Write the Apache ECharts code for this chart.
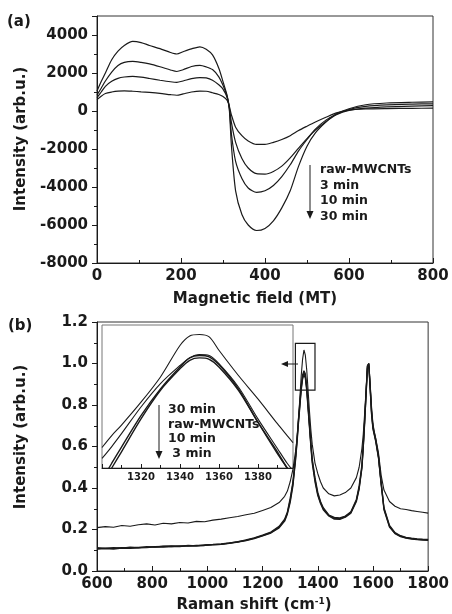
<!DOCTYPE html>
<html>
<head>
<meta charset="utf-8">
<script src="https://cdn.jsdelivr.net/npm/echarts/dist/echarts.min.js"></script>
<style>
  html, body { margin: 0; padding: 0; background: #fff; }
  #chart { width: 452px; height: 614px; }
</style>
</head>
<body>
<div id="chart"></div>
<script>
// (a) ESR spectra, magnetic field (MT)
const fieldMT = [0, 10, 20, 35, 50, 65, 85, 105, 125, 150, 175, 190, 205, 225, 245, 260, 275, 290, 300, 310,
  315, 320, 330, 345, 360, 380, 400, 420, 440, 460, 480, 500, 520, 545, 570, 600, 640, 690, 750, 800]
const esrRaw = [600, 780, 920, 1000, 1050, 1060, 1040, 1010, 980, 930, 860, 830, 900, 1000, 1050, 1040, 960, 870, 760, 560,
  250, -200, -850, -1300, -1580, -1760, -1760, -1650, -1500, -1300, -1030, -800, -580, -330, -100, 50, 110, 130, 140, 150]
const esr3min = [700, 1000, 1300, 1560, 1720, 1790, 1820, 1780, 1710, 1620, 1540, 1510, 1580, 1700, 1760, 1740, 1620, 1380, 1150, 700,
  200, -600, -1650, -2500, -3000, -3300, -3320, -3180, -2900, -2470, -1950, -1450, -1000, -560, -200, 30, 150, 220, 260, 280]
const esr10min = [850, 1200, 1580, 2050, 2400, 2560, 2610, 2560, 2480, 2330, 2160, 2080, 2170, 2340, 2400, 2320, 2180, 1800, 1350, 750,
  150, -1200, -2650, -3550, -4050, -4280, -4200, -3920, -3450, -2830, -2100, -1500, -950, -480, -170, 80, 240, 320, 360, 380]
const esr30min = [1050, 1550, 2000, 2700, 3150, 3450, 3660, 3600, 3450, 3280, 3080, 3000, 3120, 3270, 3380, 3250, 2950, 2250, 1550, 800,
  100, -1800, -4200, -5450, -6000, -6290, -6180, -5780, -5100, -4200, -2900, -1850, -1150, -580, -150, 120, 330, 420, 460, 480]
const esrLabels = ['raw-MWCNTs', '3 min', '10 min', '30 min']

// (b) Raman spectra
const ramanX = [600, 630, 660, 690, 720, 750, 780, 810, 840, 870, 900, 930, 960, 990, 1020, 1050, 1080, 1110, 1140, 1170,
  1200, 1230, 1260, 1280, 1290, 1300, 1310, 1320, 1325, 1330, 1335, 1340, 1345, 1350, 1355, 1360, 1365, 1370, 1375, 1380,
  1390, 1400, 1410, 1420, 1440, 1460, 1480, 1500, 1520, 1540, 1550, 1560, 1565, 1570, 1575, 1580, 1585, 1590, 1595, 1600,
  1605, 1610, 1620, 1630, 1640, 1660, 1680, 1700, 1720, 1740, 1760, 1780, 1800]
const ramanRaw = [0.108, 0.110, 0.109, 0.112, 0.111, 0.114, 0.115, 0.117, 0.119, 0.118, 0.121, 0.120, 0.123, 0.124, 0.126, 0.129, 0.134, 0.141, 0.148, 0.158,
  0.171, 0.185, 0.212, 0.245, 0.28, 0.34, 0.42, 0.55, 0.63, 0.72, 0.80, 0.88, 0.935, 0.955, 0.94, 0.88, 0.79, 0.70, 0.61, 0.53,
  0.44, 0.37, 0.33, 0.30, 0.268, 0.254, 0.252, 0.262, 0.282, 0.34, 0.40, 0.50, 0.60, 0.72, 0.85, 0.985, 1.0, 0.88, 0.76, 0.69,
  0.66, 0.63, 0.55, 0.42, 0.30, 0.215, 0.182, 0.168, 0.160, 0.156, 0.153, 0.151, 0.150]
const raman3min = [0.105, 0.108, 0.106, 0.110, 0.109, 0.111, 0.113, 0.116, 0.115, 0.119, 0.118, 0.122, 0.121, 0.123, 0.127, 0.128, 0.133, 0.139, 0.146, 0.156,
  0.169, 0.183, 0.208, 0.24, 0.275, 0.33, 0.41, 0.54, 0.62, 0.71, 0.79, 0.87, 0.925, 0.945, 0.93, 0.87, 0.78, 0.69, 0.60, 0.52,
  0.43, 0.365, 0.325, 0.295, 0.265, 0.25, 0.249, 0.259, 0.279, 0.335, 0.395, 0.495, 0.595, 0.715, 0.845, 0.975, 0.99, 0.875, 0.755, 0.685,
  0.655, 0.625, 0.545, 0.415, 0.295, 0.212, 0.18, 0.166, 0.158, 0.154, 0.151, 0.149, 0.148]
const raman10min = [0.112, 0.109, 0.113, 0.110, 0.115, 0.112, 0.117, 0.115, 0.120, 0.121, 0.119, 0.123, 0.121, 0.126, 0.128, 0.131, 0.136, 0.140, 0.150, 0.160,
  0.173, 0.188, 0.215, 0.25, 0.285, 0.35, 0.43, 0.56, 0.64, 0.73, 0.81, 0.89, 0.945, 0.965, 0.95, 0.89, 0.80, 0.71, 0.62, 0.54,
  0.45, 0.38, 0.335, 0.305, 0.27, 0.258, 0.256, 0.265, 0.285, 0.345, 0.41, 0.51, 0.61, 0.73, 0.86, 0.99, 1.0, 0.89, 0.77, 0.70,
  0.665, 0.635, 0.555, 0.425, 0.305, 0.22, 0.185, 0.17, 0.162, 0.158, 0.155, 0.153, 0.152]
const raman30min = [0.209, 0.214, 0.211, 0.219, 0.216, 0.223, 0.227, 0.222, 0.230, 0.227, 0.234, 0.231, 0.239, 0.237, 0.245, 0.250, 0.257, 0.263, 0.271, 0.278,
  0.292, 0.306, 0.330, 0.360, 0.385, 0.43, 0.49, 0.58, 0.64, 0.73, 0.83, 0.94, 1.02, 1.065, 1.04, 0.97, 0.87, 0.77, 0.68, 0.61,
  0.52, 0.47, 0.43, 0.40, 0.372, 0.362, 0.366, 0.378, 0.40, 0.45, 0.50, 0.59, 0.66, 0.76, 0.87, 0.985, 1.0, 0.90, 0.79, 0.71,
  0.67, 0.64, 0.57, 0.46, 0.39, 0.335, 0.312, 0.300, 0.296, 0.291, 0.287, 0.283, 0.279]

// inset: D band close-up
const insetX = [1300, 1305, 1310, 1320, 1330, 1340, 1345, 1350, 1355, 1360, 1370, 1380, 1390, 1395, 1398]
const inset30min = [0.843, 0.868, 0.890, 0.938, 0.991, 1.057, 1.077, 1.080, 1.075, 1.047, 0.994, 0.945, 0.893, 0.868, 0.853]
const insetRaw = [0.820, 0.845, 0.872, 0.928, 0.977, 1.015, 1.031, 1.038, 1.036, 1.019, 0.970, 0.903, 0.841, 0.810, 0.795]
const inset10min = [0.775, 0.810, 0.844, 0.910, 0.966, 1.012, 1.031, 1.036, 1.033, 1.017, 0.966, 0.896, 0.830, 0.800, 0.785]
const inset3min = [0.765, 0.800, 0.834, 0.903, 0.963, 1.008, 1.026, 1.031, 1.028, 1.012, 0.963, 0.896, 0.834, 0.800, 0.785]
const insetLabels = ['30 min', 'raw-MWCNTs', '10 min', ' 3 min']
const zoomBox = [[1319, 1.097], [1390, 0.872]]

const ink = '#1a1a1a'
const font = 'DejaVu Sans'
const pairs = (xs, ys) => xs.map((x, i) => [x, ys[i]])

function axisX(gridIndex, min, max, interval, size) {
  return {
    type: 'value', gridIndex, min, max, interval,
    axisLine: { onZero: false, lineStyle: { color: ink, width: 1 } },
    axisTick: { inside: true, length: size > 12 ? 5 : 4, lineStyle: { color: ink } },
    minorTick: { show: true, splitNumber: 2, length: 3, lineStyle: { color: ink } },
    axisLabel: {
      fontSize: size, fontWeight: 'bold', color: ink, margin: size > 12 ? 6 : 4, fontFamily: font,
      showMinLabel: size > 12, showMaxLabel: size > 12, formatter: v => String(v)
    },
    splitLine: { show: false }
  }
}

function axisY(gridIndex, min, max, interval, showMax, fmt) {
  return {
    type: 'value', gridIndex, min, max, interval,
    axisLine: { onZero: false, lineStyle: { color: ink, width: 1 } },
    axisTick: { length: 5, lineStyle: { color: ink } },
    minorTick: { show: true, splitNumber: 2, length: 3, lineStyle: { color: ink } },
    axisLabel: { fontSize: 15, fontWeight: 'bold', color: ink, margin: 9, fontFamily: font, showMaxLabel: showMax, formatter: fmt },
    splitLine: { show: false }
  }
}

function line(xi, data, width, smooth) {
  return {
    type: 'line', xAxisIndex: xi, yAxisIndex: xi, data, showSymbol: false, smooth,
    lineStyle: { color: ink, width }, silent: true
  }
}

function text(x, y, str, size, align, rotation) {
  return {
    type: 'text', x, y, z: 100, rotation: rotation || 0,
    style: { text: str, fill: ink, fontSize: size, fontWeight: 'bold', fontFamily: font, align: align || 'left', verticalAlign: 'middle' }
  }
}

function arrowDown(x, y1, y2) {
  return [
    { type: 'line', z: 100, shape: { x1: x, y1, x2: x, y2: y2 - 6 }, style: { stroke: ink, lineWidth: 1 } },
    { type: 'polygon', z: 100, shape: { points: [[x - 3.5, y2 - 8], [x + 3.5, y2 - 8], [x, y2]] }, style: { fill: ink } }
  ]
}

const chart = echarts.init(document.getElementById('chart'))

const series = [
  line(0, pairs(fieldMT, esrRaw), 1.2, 0.25),
  line(0, pairs(fieldMT, esr3min), 1.2, 0.25),
  line(0, pairs(fieldMT, esr10min), 1.2, 0.25),
  line(0, pairs(fieldMT, esr30min), 1.2, 0.25),
  line(1, pairs(ramanX, ramanRaw), 1.3, false),
  line(1, pairs(ramanX, raman3min), 1.3, false),
  line(1, pairs(ramanX, raman10min), 1.3, false),
  line(1, pairs(ramanX, raman30min), 1.1, false),
  line(2, pairs(insetX, inset30min), 1.1, 0.3),
  line(2, pairs(insetX, insetRaw), 1.1, 0.3),
  line(2, pairs(insetX, inset10min), 1.4, 0.3),
  line(2, pairs(insetX, inset3min), 1.4, 0.3)
]
series[7].markArea = {
  silent: true,
  itemStyle: { color: 'rgba(0,0,0,0)', borderColor: ink, borderWidth: 1.2 },
  data: [[{ coord: zoomBox[0] }, { coord: zoomBox[1] }]]
}

const graphics = [
  text(7, 22, '(a)', 15),
  text(8, 326, '(b)', 15),
  text(255, 299, 'Magnetic field (MT)', 15, 'center'),
  text(21, 139, 'Intensity (arb.u.)', 15, 'center', Math.PI / 2),
  text(21, 437, 'Intensity (arb.u.)', 15, 'center', Math.PI / 2),
  {
    type: 'text', x: 254, y: 605, z: 100,
    style: {
      text: 'Raman shift (cm{sup|-1})', fill: ink, fontSize: 15, fontWeight: 'bold', fontFamily: font, align: 'center', verticalAlign: 'middle',
      rich: { sup: { fontSize: 9, fontWeight: 'bold', fontFamily: font, fill: ink, verticalAlign: 'top', padding: [0, 0, 6, 0] } }
    }
  },
  ...arrowDown(310, 165, 219),
  ...arrowDown(159, 405, 459),
  { type: 'line', z: 100, shape: { x1: 298, y1: 364, x2: 287, y2: 364 }, style: { stroke: ink, lineWidth: 1 } },
  { type: 'polygon', z: 100, shape: { points: [[281, 364], [288, 361], [288, 367]] }, style: { fill: ink } }
]
esrLabels.forEach((s, i) => graphics.push(text(320, 170 + i * 15.5, s, 12.5)))
insetLabels.forEach((s, i) => graphics.push(text(168, 410 + i * 14.6, s, 12.5)))

chart.setOption({
  animation: false,
  backgroundColor: '#fff',
  textStyle: { fontFamily: font },
  grid: [
    { left: 97, top: 16, width: 336, height: 247, show: true, borderColor: '#333', borderWidth: 1 },
    { left: 97, top: 322, width: 336, height: 249, show: true, borderColor: '#333', borderWidth: 1 },
    { left: 102, top: 325, width: 191, height: 143, show: true, borderColor: '#777', borderWidth: 1, backgroundColor: '#fff', z: 3 }
  ],
  xAxis: [
    axisX(0, 0, 800, 200, 15),
    axisX(1, 600, 1800, 200, 15),
    Object.assign(axisX(2, 1300, 1398, 20, 10), { z: 4 })
  ],
  yAxis: [
    axisY(0, -8000, 5000, 2000, false, v => String(v)),
    axisY(1, 0, 1.2, 0.2, true, v => v.toFixed(1)),
    { type: 'value', gridIndex: 2, min: 0.8, max: 1.1, show: false }
  ],
  series,
  graphic: { elements: graphics }
})
</script>
</body>
</html>
